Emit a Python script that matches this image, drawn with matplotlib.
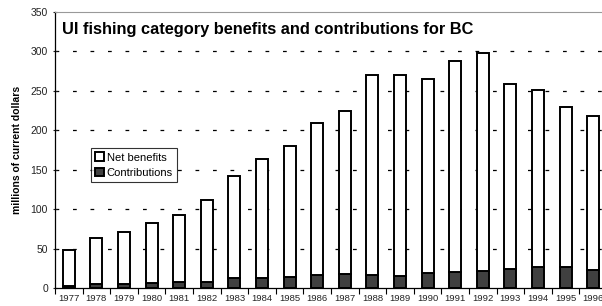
import numpy as np
import matplotlib
matplotlib.use("Agg")
import matplotlib.pyplot as plt
from matplotlib.ticker import FixedLocator

plt.rcParams['font.family'] = ['Liberation Sans', 'DejaVu Sans']

# Data (millions of current dollars)
years = [str(y) for y in range(1977, 1997)]
totals = [48, 63, 71, 83, 92, 112, 142, 163, 180, 209,
          224, 270, 270, 265, 288, 298, 259, 251, 230, 218]
contributions = [3, 5, 5, 6, 8, 8, 13, 13, 14, 16,
                 18, 17, 15, 19, 20, 22, 24, 26, 26, 23]
net_benefits = [t - c for t, c in zip(totals, contributions)]

fig = plt.figure(figsize=(6.02, 3.06), dpi=100)
ax = fig.add_axes([55 / 602, 18 / 306, 552 / 602, 276 / 306])

x = np.arange(len(years))
w = 0.43
ax.bar(x, contributions, w, color='#404040', edgecolor='black', linewidth=1.4,
       label='Contributions', zorder=3)
ax.bar(x, net_benefits, w, bottom=contributions, color='white', edgecolor='black',
       linewidth=1.4, label='Net benefits', zorder=3)

ax.set_xlim(-0.5, len(years) - 0.5)
ax.set_ylim(0, 350)
ax.set_yticks(range(0, 351, 50))
ax.set_xticks(x)
ax.set_xticklabels(years)
ax.xaxis.set_minor_locator(FixedLocator(np.arange(-0.5, len(years), 1)))
ax.tick_params(axis='x', which='major', length=0, labelsize=6.8, pad=4, colors='#222222')
ax.tick_params(axis='x', which='minor', length=4, direction='out', width=0.8)
ax.tick_params(axis='y', length=3, direction='inout', labelsize=7.5, width=0.8,
               colors='#222222')

for v in range(50, 301, 50):
    ax.axhline(v, color='black', linewidth=0.9, linestyle=(0, (3, 11)), zorder=1)

ax.spines['top'].set_color('#999999')
ax.spines['right'].set_visible(False)
ax.spines['left'].set_linewidth(0.9)
ax.spines['bottom'].set_linewidth(0.9)

ax.set_ylabel('millions of current dollars', fontsize=7.5, fontweight='bold', labelpad=6)
ax.text(0.012, 0.935, 'UI fishing category benefits and contributions for BC',
        transform=ax.transAxes, fontsize=11.8, fontweight='bold', va='center')

handles, labels = ax.get_legend_handles_labels()
leg = ax.legend(handles[::-1], labels[::-1], loc='upper left',
                bbox_to_anchor=(36 / 552, 140 / 276), fontsize=8, frameon=True,
                fancybox=False, edgecolor='black', handlelength=0.8,
                handleheight=0.8, handletextpad=0.2, borderpad=0.4,
                labelspacing=0.45, borderaxespad=0)
leg.get_frame().set_linewidth(0.8)

fig.savefig('out.png', dpi=100)
